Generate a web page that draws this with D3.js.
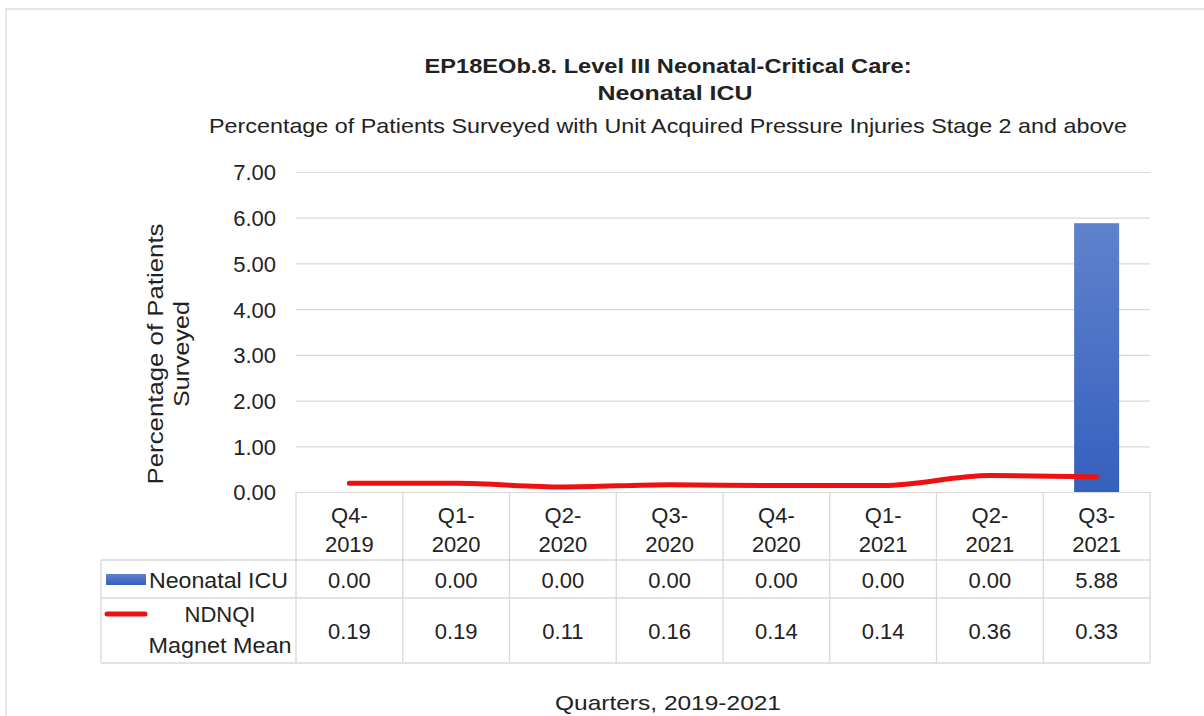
<!DOCTYPE html>
<meta charset="utf-8">
<style>
  body { margin: 0; background: #fff; }
  svg text { font-family: "Liberation Sans", Arial, sans-serif; fill: #222; }
</style>
<script src="https://d3js.org/d3.v7.min.js"></script>
<body>
<svg id="chart" width="1204" height="716"></svg>
<script>
// data
var quarters = ["Q4-2019", "Q1-2020", "Q2-2020", "Q3-2020", "Q4-2020", "Q1-2021", "Q2-2021", "Q3-2021"];
var nicu = [0.00, 0.00, 0.00, 0.00, 0.00, 0.00, 0.00, 5.88];
var magnetMean = [0.19, 0.19, 0.11, 0.16, 0.14, 0.14, 0.36, 0.33];
var yTicks = [0, 1, 2, 3, 4, 5, 6, 7];

var svg = d3.select("#chart");
var gridCol = "#d9d9d9";
var fs = "22px";

// outer frame (only top and left show)
svg.append("path").attr("d", "M6,716 V9 H1204").attr("fill", "none").attr("stroke", "#dcdfe6").attr("stroke-width", 1.5);

var x = d3.scaleBand().domain(quarters).range([296, 1150]).paddingInner(0).paddingOuter(0);
var y = d3.scaleLinear().domain([0, 7]).range([492, 172]);

// gridlines + tick labels
var yAxis = d3.axisLeft(y).tickValues(yTicks).tickFormat(d3.format(".2f")).tickSize(-(1150 - 296)).tickPadding(20);
var ga = svg.append("g").attr("transform", "translate(296,0)").call(yAxis);
ga.select(".domain").remove();
ga.selectAll(".tick line").attr("stroke", gridCol).attr("stroke-width", 1.2);
ga.selectAll(".tick text").style("font-size", fs).attr("fill", "#222").attr("dy", "0.36em");

// titles
svg.append("text").attr("x", 668).attr("y", 73).attr("text-anchor", "middle")
  .attr("textLength", 487).attr("lengthAdjust", "spacingAndGlyphs")
  .style("font-size", "20px").style("font-weight", "bold").text("EP18EOb.8. Level III Neonatal-Critical Care:");
svg.append("text").attr("x", 675).attr("y", 100).attr("text-anchor", "middle")
  .attr("textLength", 155).attr("lengthAdjust", "spacingAndGlyphs")
  .style("font-size", "20px").style("font-weight", "bold").text("Neonatal ICU");
svg.append("text").attr("x", 668).attr("y", 133).attr("text-anchor", "middle")
  .attr("textLength", 918).attr("lengthAdjust", "spacingAndGlyphs")
  .style("font-size", "21px").text("Percentage of Patients Surveyed with Unit Acquired Pressure Injuries Stage 2 and above");

// y axis title, two lines
svg.append("text").attr("transform", "translate(163,354) rotate(-90)").attr("text-anchor", "middle")
  .attr("textLength", 261).attr("lengthAdjust", "spacingAndGlyphs")
  .style("font-size", "22px").text("Percentage of Patients");
svg.append("text").attr("transform", "translate(189,354) rotate(-90)").attr("text-anchor", "middle")
  .attr("textLength", 106).attr("lengthAdjust", "spacingAndGlyphs")
  .style("font-size", "22px").text("Surveyed");

// bar gradient
var defs = svg.append("defs");
var grad = defs.append("linearGradient").attr("id", "barGrad").attr("x1", 0).attr("y1", 0).attr("x2", 0).attr("y2", 1);
grad.append("stop").attr("offset", "0%").attr("stop-color", "#5f82cd");
grad.append("stop").attr("offset", "100%").attr("stop-color", "#3560bd");

// bars
var bw = 45;
svg.selectAll("rect.bar").data(quarters).enter().append("rect").attr("class", "bar")
  .attr("x", function(d) { return x(d) + x.bandwidth() / 2 - bw / 2; })
  .attr("width", bw)
  .attr("y", function(d, i) { return y(nicu[i]); })
  .attr("height", function(d, i) { return y(0) - y(nicu[i]); })
  .attr("fill", "url(#barGrad)");

// line
var line = d3.line()
  .x(function(d, i) { return x(quarters[i]) + x.bandwidth() / 2; })
  .y(function(d) { return y(d); })
  .curve(d3.curveMonotoneX);
svg.append("path").datum(magnetMean).attr("d", line).attr("fill", "none")
  .attr("stroke", "#ee1111").attr("stroke-width", 5).attr("stroke-linecap", "round");

// data table
var rowTop = 492, hdrBot = 560, r1Bot = 598, r2Bot = 663, legL = 101;
var tb = svg.append("g").attr("stroke", gridCol).attr("stroke-width", 1.3);
[hdrBot, r1Bot, r2Bot].forEach(function(yy) {
  tb.append("line").attr("x1", legL).attr("x2", 1150).attr("y1", yy).attr("y2", yy);
});
tb.append("line").attr("x1", legL).attr("x2", legL).attr("y1", hdrBot).attr("y2", r2Bot);
var bounds = quarters.map(function(q) { return x(q); }).concat([1150]);
bounds.forEach(function(b) {
  tb.append("line").attr("x1", b).attr("x2", b).attr("y1", rowTop).attr("y2", r2Bot);
});

var cx = function(q) { return x(q) + x.bandwidth() / 2; };
var hdr = svg.selectAll("text.hdr").data(quarters).enter().append("text").attr("class", "hdr")
  .attr("text-anchor", "middle").style("font-size", fs);
hdr.append("tspan").attr("x", cx).attr("y", 523).text(function(d) { return d.split("-")[0] + "-"; });
hdr.append("tspan").attr("x", cx).attr("y", 552).text(function(d) { return d.split("-")[1]; });

svg.selectAll("text.v1").data(nicu).enter().append("text").attr("class", "v1")
  .attr("x", function(d, i) { return cx(quarters[i]); }).attr("y", 588)
  .attr("text-anchor", "middle").style("font-size", fs).text(d3.format(".2f"));
svg.selectAll("text.v2").data(magnetMean).enter().append("text").attr("class", "v2")
  .attr("x", function(d, i) { return cx(quarters[i]); }).attr("y", 639)
  .attr("text-anchor", "middle").style("font-size", fs).text(d3.format(".2f"));

// legend keys
svg.append("rect").attr("x", 106).attr("y", 574).attr("width", 40).attr("height", 11).attr("fill", "url(#barGrad)");
svg.append("text").attr("x", 149).attr("y", 588).attr("textLength", 139).attr("lengthAdjust", "spacingAndGlyphs")
  .style("font-size", fs).text("Neonatal ICU");
svg.append("line").attr("x1", 107).attr("x2", 145).attr("y1", 614).attr("y2", 614)
  .attr("stroke", "#ee1111").attr("stroke-width", 5).attr("stroke-linecap", "round");
svg.append("text").attr("x", 220).attr("y", 622).attr("text-anchor", "middle").style("font-size", fs).text("NDNQI");
svg.append("text").attr("x", 220).attr("y", 653).attr("text-anchor", "middle")
  .attr("textLength", 143).attr("lengthAdjust", "spacingAndGlyphs").style("font-size", fs).text("Magnet Mean");

// x axis title
svg.append("text").attr("x", 668).attr("y", 710).attr("text-anchor", "middle")
  .attr("textLength", 226).attr("lengthAdjust", "spacingAndGlyphs").style("font-size", "21px").text("Quarters, 2019-2021");
</script>
</body>
